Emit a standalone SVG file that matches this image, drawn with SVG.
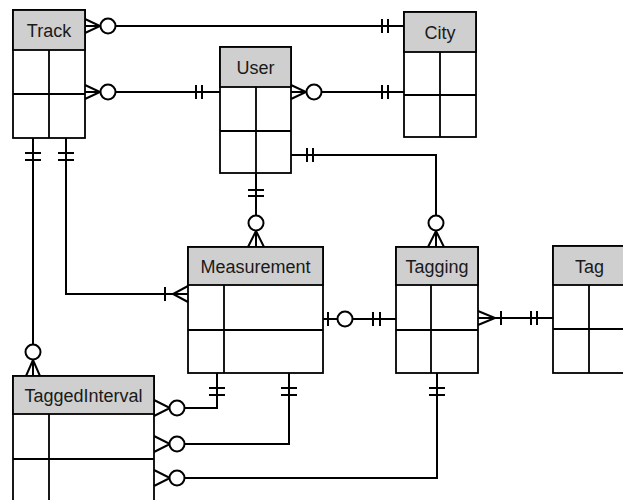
<svg xmlns="http://www.w3.org/2000/svg" width="623" height="500" viewBox="0 0 623 500">
<style>
.box{fill:#fff;stroke:#000;stroke-width:1.8}
.hdr{fill:#cfcfcf;stroke:#000;stroke-width:1.8}
.ln{fill:none;stroke:#000;stroke-width:1.8}
.lbl{font-family:"Liberation Sans",Arial,sans-serif;font-size:18px;fill:#1a1a1a;text-anchor:middle}
.c{fill:none;stroke:#000;stroke-width:2}
.o{fill:#fff;stroke:#000;stroke-width:2}
</style>
<rect width="623" height="500" fill="#fff"/>
<g id="Track">
<rect class="box" x="13" y="10" width="72" height="128"/>
<rect class="hdr" x="13" y="10" width="72" height="40"/>
<path class="ln" d="M13 94H85M49 50V138"/>
<text class="lbl" x="49" y="37">Track</text>
</g>
<g id="City">
<rect class="box" x="404" y="12" width="72" height="125"/>
<rect class="hdr" x="404" y="12" width="72" height="40"/>
<path class="ln" d="M404 95H476M440 52V137"/>
<text class="lbl" x="440" y="39">City</text>
</g>
<g id="User">
<rect class="box" x="220" y="47" width="71" height="126"/>
<rect class="hdr" x="220" y="47" width="71" height="40"/>
<path class="ln" d="M220 131H291M256 87V173"/>
<text class="lbl" x="255.5" y="74">User</text>
</g>
<g id="Measurement">
<rect class="box" x="188" y="247" width="135" height="126"/>
<rect class="hdr" x="188" y="247" width="135" height="38"/>
<path class="ln" d="M188 330H323M224 285V373"/>
<text class="lbl" x="255.5" y="272.5">Measurement</text>
</g>
<g id="Tagging">
<rect class="box" x="396" y="247" width="82" height="126"/>
<rect class="hdr" x="396" y="247" width="82" height="38"/>
<path class="ln" d="M396 330H478M431 285V373"/>
<text class="lbl" x="437" y="272.5">Tagging</text>
</g>
<g id="Tag">
<rect class="box" x="553" y="246" width="73" height="127"/>
<rect class="hdr" x="553" y="246" width="73" height="39"/>
<path class="ln" d="M553 329H626M589 285V373"/>
<text class="lbl" x="589.5" y="272.5">Tag</text>
</g>
<g id="TaggedInterval">
<rect class="box" x="13" y="376" width="141" height="140"/>
<rect class="hdr" x="13" y="376" width="141" height="38"/>
<path class="ln" d="M13 459H154M49 414V516"/>
<text class="lbl" x="83.5" y="401.5">TaggedInterval</text>
</g>
<g id="connectors">
<path class="c" d="M85 26H404M85 19L100 26L85 33M382 19V33M388 19V33"/>
<circle class="o" cx="108" cy="26" r="7.5"/>
<path class="c" d="M85 92H220M85 85L100 92L85 99M196 85V99M202 85V99"/>
<circle class="o" cx="108" cy="92" r="7.5"/>
<path class="c" d="M291 92H404M291 85L306 92L291 99M382 85V99M388 85V99"/>
<circle class="o" cx="314" cy="92" r="7.5"/>
<path class="c" d="M291 155H436V247M307 148V162M313 148V162M428 247L436 231L444 247"/>
<circle class="o" cx="436" cy="223" r="7.5"/>
<path class="c" d="M256 173V247M248 190H264M248 196H264M248 247L256 231L264 247"/>
<circle class="o" cx="256" cy="223" r="7.5"/>
<path class="c" d="M66 138V294H188M58 153H74M58 160H74M165 287V301M188 286L173 294L188 302"/>
<path class="c" d="M33 138V376M25 153H41M25 160H41M26 376L33 360L40 376"/>
<circle class="o" cx="33" cy="352" r="7.5"/>
<path class="c" d="M323 319H396M328 312V326M373 312V326M380 312V326"/>
<circle class="o" cx="345" cy="319" r="7.5"/>
<path class="c" d="M478 318H553M478 311L495 318L478 325M501 311V325M531 311V325M537 311V325"/>
<path class="c" d="M217 373V408H177M209 388H225M209 395H225M154 400L170 408L154 416"/>
<circle class="o" cx="177" cy="408" r="7.5"/>
<path class="c" d="M289 373V444H177M281 388H297M281 395H297M154 436L170 444L154 452"/>
<circle class="o" cx="177" cy="444" r="7.5"/>
<path class="c" d="M437 373V478H177M429 388H445M429 395H445M154 470L170 478L154 486"/>
<circle class="o" cx="177" cy="478" r="7.5"/>
</g>
</svg>
